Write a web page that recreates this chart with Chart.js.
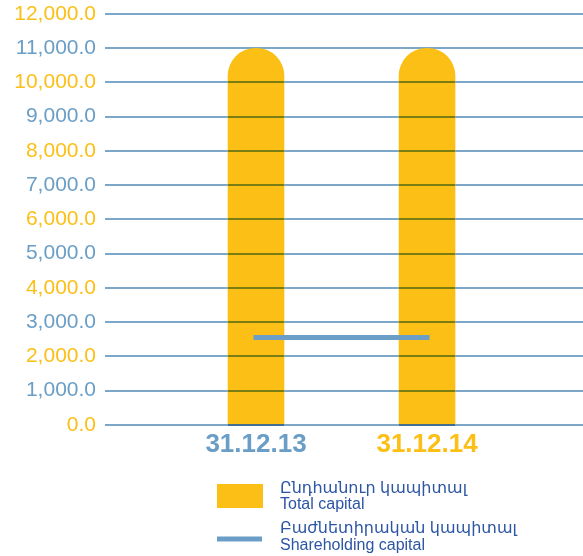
<!DOCTYPE html>
<html>
<head>
<meta charset="utf-8">
<script src="https://cdn.jsdelivr.net/npm/chart.js@4"></script>
<style>
  html, body { margin: 0; padding: 0; background: #fff; }
  #wrap { width: 583px; height: 556px; }
</style>
</head>
<body>
<div id="wrap"><canvas id="chart" width="583" height="556"></canvas></div>
<script>
// data
const dates = ['31.12.13', '31.12.14'];
const totalCapital = [11000, 11000];
const shareholdingCapital = [2550, 2550];
const legendLabels = [
  ['Ընդհանուր կապիտալ', 'Total capital'],
  ['Բաժնետիրական կապիտալ', 'Shareholding capital']
];

const YELLOW = '#fbbf15';
const BLUE = '#6a9ec6';
const GRID = '#7ca7c9';
const LEGEND_TEXT = '#2c55a3';
const FONT = '"Liberation Sans", Arial, "DejaVu Sans", sans-serif';

// grid lines show through the bars (multiplied, like the original)
const gridOverBars = {
  id: 'gridOverBars',
  afterDatasetsDraw(chart) {
    const ctx = chart.ctx;
    const yScale = chart.scales.y;
    const bottom = chart.chartArea.bottom;
    const meta = chart.getDatasetMeta(1);
    ctx.save();
    try {
      ctx.globalCompositeOperation = 'multiply';
      ctx.strokeStyle = GRID;
      ctx.lineWidth = 2;
      meta.data.forEach((bar) => {
        const w = bar.width;
        const left = bar.x - w / 2;
        const capTop = bar.y + w / 2; // skip the rounded cap
        yScale.ticks.forEach((t) => {
          const py = Math.round(yScale.getPixelForValue(t.value));
          if (py < capTop || py > bottom + 1) return;
          ctx.beginPath();
          ctx.moveTo(left, py);
          ctx.lineTo(left + w, py);
          ctx.stroke();
        });
      });
    } catch (e) {
      console.error(e);
    }
    ctx.restore();
  }
};

// two-line legend under the chart
const customLegend = {
  id: 'customLegend',
  afterDraw(chart) {
    const ctx = chart.ctx;
    const x0 = 217, tx = 280;
    ctx.save();
    ctx.fillStyle = YELLOW;
    ctx.fillRect(x0, 484, 46, 24);
    ctx.strokeStyle = BLUE;
    ctx.lineWidth = 5;
    ctx.beginPath();
    ctx.moveTo(x0, 539);
    ctx.lineTo(x0 + 45, 539);
    ctx.stroke();

    ctx.fillStyle = LEGEND_TEXT;
    ctx.font = '16px ' + FONT;
    ctx.textAlign = 'left';
    ctx.textBaseline = 'alphabetic';
    const baselines = [[493, 509], [533, 550]];
    legendLabels.forEach((lines, i) => {
      lines.forEach((t, j) => ctx.fillText(t, tx, baselines[i][j]));
    });
    ctx.restore();
  }
};

const ctx = document.getElementById('chart').getContext('2d');
new Chart(ctx, {
  data: {
    datasets: [
      {
        type: 'line',
        label: 'Shareholding capital',
        data: shareholdingCapital.map((v, i) => ({ x: i, y: v })),
        borderColor: BLUE,
        borderWidth: 5,
        borderCapStyle: 'square',
        pointRadius: 0,
        fill: false,
        order: 0
      },
      {
        type: 'bar',
        label: 'Total capital',
        data: totalCapital.map((v, i) => ({ x: i, y: v })),
        backgroundColor: YELLOW,
        barThickness: 56,
        borderRadius: { topLeft: 28, topRight: 28 },
        borderSkipped: 'bottom',
        order: 1
      }
    ]
  },
  options: {
    responsive: false,
    animation: false,
    layout: { padding: { top: 14, right: 0, bottom: 92, left: 0 } },
    plugins: {
      legend: { display: false },
      tooltip: { enabled: false }
    },
    scales: {
      x: {
        type: 'linear',
        offset: false,
        bounds: 'data',
        min: -0.883,
        max: 1.912,
        afterBuildTicks: (scale) => {
          scale.ticks = dates.map((d, i) => ({ value: i }));
        },
        grid: { display: false, drawTicks: false, offset: false },
        border: { display: false },
        ticks: {
          padding: 4,
          autoSkip: false,
          maxRotation: 0,
          callback: (v) => dates[v],
          color: (c) => (c.index === 0 ? BLUE : YELLOW),
          font: { family: FONT, size: 26, weight: 'bold' }
        }
      },
      y: {
        min: 0,
        max: 12000,
        afterFit: (scale) => {
          scale.width = 105;
          scale.paddingTop = 0;
          scale.paddingBottom = 0;
        },
        grid: { color: GRID, lineWidth: 2, drawTicks: false },
        border: { display: false },
        ticks: {
          stepSize: 1000,
          padding: 9,
          color: (c) => ((c.tick.value / 1000) % 2 === 0 ? YELLOW : BLUE),
          font: { family: FONT, size: 21 },
          callback: (v) => v.toLocaleString('en-US', { minimumFractionDigits: 1, maximumFractionDigits: 1 })
        }
      }
    }
  },
  plugins: [gridOverBars, customLegend]
});
</script>
</body>
</html>
